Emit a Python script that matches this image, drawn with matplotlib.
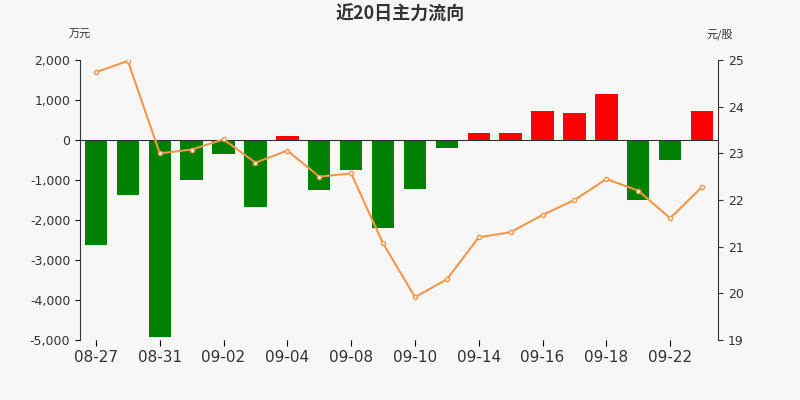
import matplotlib
matplotlib.use("Agg")
import matplotlib.pyplot as plt

dates = ["08-27", "08-28", "08-31", "09-01", "09-02", "09-03", "09-04", "09-07",
         "09-08", "09-09", "09-10", "09-11", "09-14", "09-15", "09-16", "09-17",
         "09-18", "09-21", "09-22", "09-23"]
flow = [-2625, -1375, -4925, -1000, -350, -1675, 100, -1250, -750, -2200,
        -1225, -200, 175, 175, 725, 675, 1150, -1500, -500, 725]
price = [24.74, 24.98, 23.0, 23.08, 23.3, 22.8, 23.06, 22.5, 22.57, 21.07,
         19.92, 20.3, 21.2, 21.31, 21.68, 22.0, 22.45, 22.2, 21.61, 22.28]

bg = "#f7f7f7"
fig = plt.figure(figsize=(8, 4), dpi=100, facecolor=bg)
ax = fig.add_axes([0.1, 0.15, 0.7975, 0.70], facecolor=bg)
x = list(range(len(dates)))
colors = ["#ff0000" if v > 0 else "#008000" for v in flow]
ax.bar(x, flow, width=0.7, color=colors)
ax.axhline(0, color="#333333", lw=0.8)
ax.set_ylim(-5000, 2000)
ax.set_yticks(range(-5000, 2001, 1000))
ax.set_yticklabels([f"{v:,}" for v in range(-5000, 2001, 1000)], fontsize=9, color="#333333")
ax.set_xlim(-0.5, len(dates) - 0.5)
ax.set_xticks(x[::2])
ax.set_xticklabels(dates[::2], fontsize=11, color="#333333")
ax.tick_params(axis="x", length=4)
for s in ["top", "right"]:
    ax.spines[s].set_visible(False)
ax.spines["left"].set_color("#333333")
ax.spines["bottom"].set_visible(False)

ax2 = ax.twinx()
ax2.plot(x, price, color="#f5964a", lw=1.5, marker="o", ms=3,
         markerfacecolor="white", markeredgecolor="#f5964a")
ax2.set_ylim(19, 25)
ax2.set_yticks(range(19, 26))
ax2.tick_params(labelsize=9, colors="#333333")
for s in ["top", "left", "bottom"]:
    ax2.spines[s].set_visible(False)
ax2.spines["right"].set_color("#333333")

fig.text(0.5, 0.965, "近20日主力流向", ha="center", va="center", fontsize=13,
         fontweight="bold", color="#333333", family=["Noto Sans CJK SC", "DejaVu Sans"])
fig.text(0.1, 0.905, "万元", ha="center", fontsize=8, color="#333333",
         family=["Noto Sans CJK SC", "DejaVu Sans"])
fig.text(0.9, 0.905, "元/股", ha="center", fontsize=8, color="#333333",
         family=["Noto Sans CJK SC", "DejaVu Sans"])

fig.savefig("out.png", dpi=100, facecolor=bg)
